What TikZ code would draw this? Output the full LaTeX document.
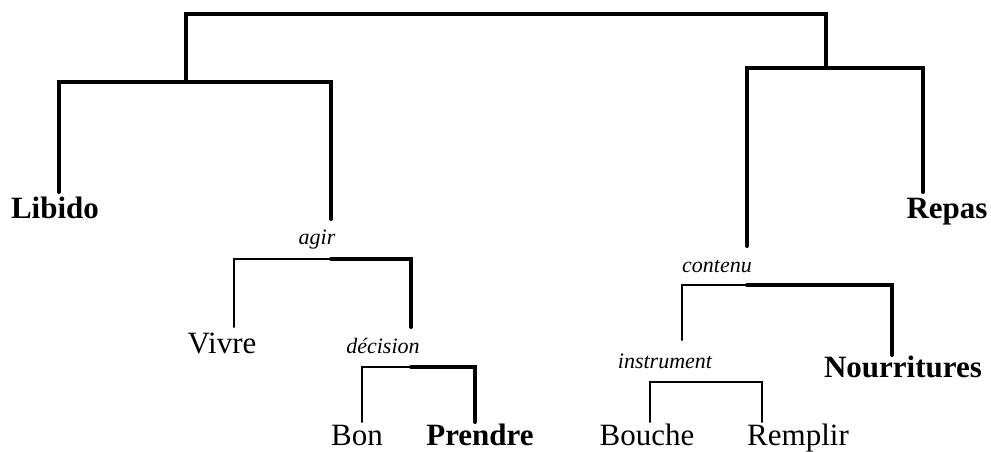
\documentclass[tikz,border=0pt]{standalone}
\usepackage{fontspec}
\setmainfont{Liberation Serif}
\begin{document}
\begin{tikzpicture}[
  x = 1pt, y = -1pt,
  % thick strokes mark the main path, thin ones the side branches
  heavy/.style = {line width=4pt, line cap=round},
  light/.style = {line width=2pt, line cap=round},
  head/.style  = {inner sep=0pt, anchor=base, font=\fontsize{31}{31}\selectfont\bfseries},
  word/.style  = {inner sep=0pt, anchor=base, font=\fontsize{31}{31}\selectfont},
  rel/.style   = {inner sep=0pt, anchor=base, font=\fontsize{22}{22}\selectfont\itshape},
]
\useasboundingbox (0,0) rectangle (991,452);

% --- words of the tree
\node[head] (libido)  at (55, 218)  {Libido};
\node[head] (repas)   at (947, 218) {Repas};
\node[word] (vivre)   at (222, 353) {Vivre};
\node[head] (nourr)   at (903, 377) {Nourritures};
\node[word] (bon)     at (357, 445) {Bon};
\node[head] (prendre) at (480, 445) {Prendre};
\node[word] (bouche)  at (647, 445) {Bouche};
\node[word] (remplir) at (798, 445) {Remplir};

% --- relation labels
\node[rel] (agir)     at (317, 244) {agir};
\node[rel] (decision) at (383, 353) {décision};
\node[rel] (contenu)  at (717, 272) {contenu};
\node[rel] (instr)    at (665, 368) {instrument};

% --- free ends of the branches
\coordinate (top)      at (0, 14);
\coordinate (libido-e) at (59, 192);
\coordinate (agir-e)   at (331, 219);
\coordinate (repas-e)  at (923, 192);
\coordinate (cont-e)   at (747, 246);
\coordinate (vivre-e)  at (234, 327);
\coordinate (dec-e)    at (411, 327);
\coordinate (bon-e)    at (362, 422);
\coordinate (prend-e)  at (475, 422);
\coordinate (instr-e)  at (682, 340);
\coordinate (nourr-e)  at (892, 355);
\coordinate (bouche-e) at (650, 422);
\coordinate (rempl-e)  at (762, 422);

% --- bar levels
\coordinate (barL)  at (186, 82);
\coordinate (barR)  at (826, 68);
\coordinate (barA)  at (0, 259);
\coordinate (barD)  at (0, 367);
\coordinate (barC)  at (0, 285);
\coordinate (barI)  at (0, 382);

% --- top
\draw[heavy] (barL) -- (barL |- top) -- (barR |- top) -- (barR);
\draw[heavy] (libido-e) -- (libido-e |- barL) -- (agir-e |- barL) -- (agir-e);
\draw[heavy] (cont-e) -- (cont-e |- barR) -- (repas-e |- barR) -- (repas-e);

% --- agir / décision
\draw[light] (vivre-e) -- (vivre-e |- barA) -- (agir-e |- barA);
\draw[heavy] (agir-e |- barA) -- (dec-e |- barA) -- (dec-e);
\draw[light] (bon-e) -- (bon-e |- barD) -- (dec-e |- barD);
\draw[heavy] (dec-e |- barD) -- (prend-e |- barD) -- (prend-e);

% --- contenu / instrument
\draw[light] (instr-e) -- (instr-e |- barC) -- (cont-e |- barC);
\draw[heavy] (cont-e |- barC) -- (nourr-e |- barC) -- (nourr-e);
\draw[light] (bouche-e) -- (bouche-e |- barI) -- (rempl-e |- barI) -- (rempl-e);

\end{tikzpicture}
\end{document}
